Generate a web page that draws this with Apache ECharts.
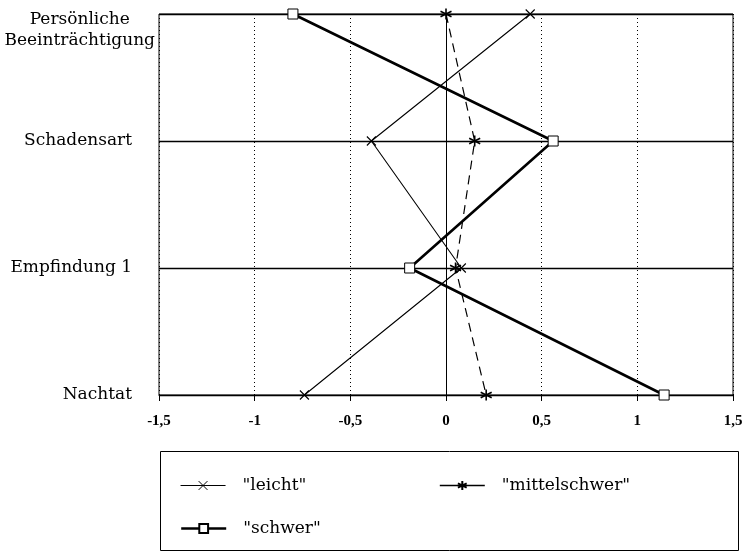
<!DOCTYPE html>
<html><head><meta charset="utf-8">
<script src="https://cdn.jsdelivr.net/npm/echarts@6/dist/echarts.min.js"></script>
<style>html,body{margin:0;padding:0;background:#fff}#c{width:747px;height:558px}</style>
</head><body><div id="c"></div>
<script>
// categories, top to bottom
const categories = ['Persönliche Beeinträchtigung', 'Schadensart', 'Empfindung 1', 'Nachtat'];
const seriesNames = ['"leicht"', '"mittelschwer"', '"schwer"'];
const leicht = [0.44, -0.39, 0.08, -0.74];
const mittelschwer = [0.0, 0.15, 0.05, 0.21];
const schwer = [-0.80, 0.56, -0.19, 1.14];
const xMin = -1.5, xMax = 1.5, xStep = 0.5;

const FONT = 'DejaVu Serif';
const FS = 17;
const chart = echarts.init(document.getElementById('c'), null, {renderer: 'canvas'});

const xSym = 'path://M0,0L10,10M10,0L0,10';
const starSym = 'path://M5,0L5,10M0.7,2.5L9.3,7.5M9.3,2.5L0.7,7.5';

function legendCfg(name, left, top, extra) {
  return Object.assign({
    data: [name], left: left, top: top, padding: 0,
    itemWidth: 45, itemHeight: 11,
    textStyle: {fontFamily: FONT, fontSize: FS, color: '#000', padding: [0, 0, 0, 12]},
    selectedMode: false
  }, extra || {});
}

const yData = categories.map(c => c.indexOf('Persönliche') === 0
  ? {value: c, textStyle: {verticalAlign: 'top'}}
  : c);

const option = {
  animation: false,
  backgroundColor: '#fff',
  grid: {left: 159, right: 14, top: 14, bottom: 163, show: true, borderColor: '#000', borderWidth: 1,
         containLabel: false, outerBoundsMode: 'none'},
  xAxis: {
    type: 'value', min: xMin, max: xMax, interval: xStep,
    axisLine: {show: true, lineStyle: {color: '#000', width: 1}},
    axisTick: {show: true, length: 6, lineStyle: {color: '#000'}},
    axisLabel: {
      margin: 19, color: '#000', fontFamily: 'Liberation Serif', fontSize: 15, fontWeight: 'bold',
      formatter: v => String(v).replace('.', ',')
    },
    splitLine: {show: true, lineStyle: {color: '#000', type: [1, 3], width: 1}}
  },
  yAxis: {
    type: 'category', inverse: true, boundaryGap: false,
    data: yData,
    axisLine: {show: false},
    axisTick: {show: true, length: 8, lineStyle: {color: '#000'}},
    splitLine: {show: true, lineStyle: {color: '#000', width: 1.4}},
    axisLabel: {
      margin: 4, color: '#000', fontFamily: FONT, fontSize: FS,
      formatter: function (v) {
        if (v.indexOf('Persönliche') === 0) {
          const parts = v.split(' ');
          return '{p1|' + parts[0] + '}\n{p2|' + parts[1] + '}';
        }
        return '{s|' + v + '}';
      },
      rich: {
        s: {fontFamily: FONT, fontSize: FS, color: '#000', padding: [0, 23, 0, 0]},
        p1: {fontFamily: FONT, fontSize: FS, color: '#000', align: 'center', lineHeight: 12},
        p2: {fontFamily: FONT, fontSize: FS, color: '#000', align: 'center', lineHeight: 29}
      }
    }
  },
  legend: [
    legendCfg(seriesNames[0], 180, 477, {lineStyle: {width: 1.1}, itemStyle: {borderWidth: 1}}),
    legendCfg(seriesNames[1], 439, 477, {lineStyle: {type: 'solid', width: 1.6}}),
    legendCfg(seriesNames[2], 180, 520, {lineStyle: {width: 2.4}})
  ],
  graphic: [{
    type: 'rect', left: 158, top: 449, z: -1,
    shape: {width: 578, height: 99},
    style: {fill: 'none', stroke: '#000', lineWidth: 1}
  }],
  series: [
    {
      name: seriesNames[0], type: 'line', data: leicht,
      symbol: xSym, symbolSize: 9,
      lineStyle: {color: '#000', width: 1.1},
      itemStyle: {color: '#000', borderColor: '#000', borderWidth: 1.1},
      markLine: {
        silent: true, symbol: 'none', label: {show: false},
        lineStyle: {color: '#000', type: 'solid', width: 1},
        data: [{xAxis: 0}]
      },
      z: 3
    },
    {
      name: seriesNames[1], type: 'line', data: mittelschwer,
      symbol: starSym, symbolSize: 11,
      lineStyle: {color: '#000', width: 1.2, type: [9, 6]},
      itemStyle: {color: '#000', borderColor: '#000', borderWidth: 1.6},
      z: 4
    },
    {
      name: seriesNames[2], type: 'line', data: schwer,
      symbol: 'rect', symbolSize: 10, showAllSymbol: true,
      lineStyle: {color: '#000', width: 2.6},
      itemStyle: {color: '#fff', borderColor: '#000', borderWidth: 1},
      z: 5
    }
  ]
};
chart.setOption(option);
</script>
</body></html>
